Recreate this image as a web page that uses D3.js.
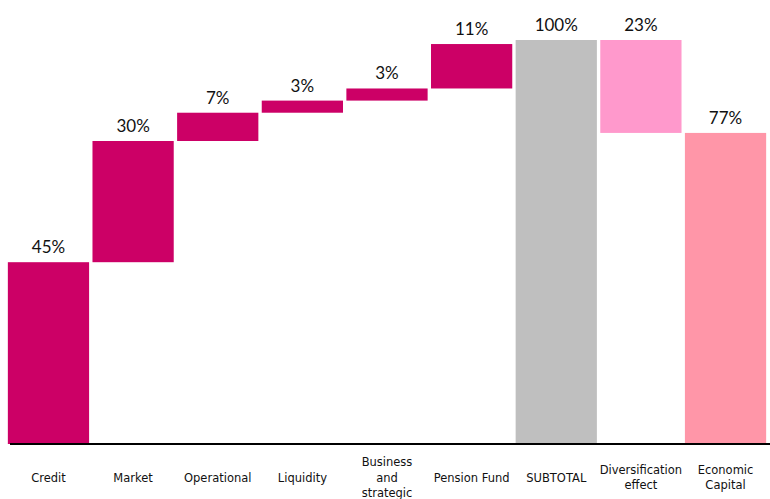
<!DOCTYPE html>
<html>
<head>
<meta charset="utf-8">
<script src="https://cdn.jsdelivr.net/npm/d3@7"></script>
<style>
  html, body { margin: 0; padding: 0; background: #fff; }
  svg { display: block; }
</style>
</head>
<body>
<svg id="chart" width="770" height="499"></svg>
<script>
// Economic capital build-up by risk type (waterfall)
const categories = ["Credit", "Market", "Operational", "Liquidity", "Business and strategic",
                    "Pension Fund", "SUBTOTAL", "Diversification effect", "Economic Capital"];
const tickLabels = [["Credit"], ["Market"], ["Operational"], ["Liquidity"], ["Business", "and", "strategic"],
                    ["Pension Fund"], ["SUBTOTAL"], ["Diversification", "effect"], ["Economic", "Capital"]];
const values = [45, 30, 7, 3, 3, 11, 100, -23, 77];
const kinds = ["risk", "risk", "risk", "risk", "risk", "risk", "subtotal", "diversification", "total"];
const valueLabels = ["45%", "30%", "7%", "3%", "3%", "11%", "100%", "23%", "77%"];

const colors = { risk: "#CC0066", subtotal: "#BFBFBF", diversification: "#FF99CC", total: "#FF96A8" };

const svg = d3.select("#chart");

// Waterfall segments: steps stack on the running total, totals start from zero
let running = 0;
const bars = categories.map((c, i) => {
  const v = values[i];
  let y0, y1;
  if (kinds[i] === "subtotal" || kinds[i] === "total") {
    y0 = 0; y1 = v; running = v;
  } else {
    y0 = running; y1 = running + v; running = y1;
  }
  return { cat: c, lo: Math.min(y0, y1), hi: Math.max(y0, y1), kind: kinds[i], label: valueLabels[i] };
});

const x = d3.scaleBand().domain(categories).range([7, 767]).paddingInner(0.04).paddingOuter(0.01);
const y = d3.scaleLinear().domain([0, 100]).range([444, 40]);

svg.append("g").selectAll("rect").data(bars).join("rect")
  .attr("x", d => x(d.cat))
  .attr("width", x.bandwidth())
  .attr("y", d => y(d.hi))
  .attr("height", d => y(d.lo) - y(d.hi))
  .attr("fill", d => colors[d.kind]);

svg.append("g").selectAll("text").data(bars).join("text")
  .attr("x", d => x(d.cat) + x.bandwidth() / 2)
  .attr("y", d => y(d.hi) - 9)
  .attr("text-anchor", "middle")
  .attr("font-family", "Lato, 'Open Sans', sans-serif")
  .attr("font-size", 17)
  .attr("fill", "#111")
  .text(d => d.label);

// Category axis with multi-line labels; baseline drawn across the full plot width
const axis = svg.append("g")
  .attr("transform", `translate(0,${y(0)})`)
  .call(d3.axisBottom(x).tickSize(0).tickSizeOuter(0));
axis.select(".domain").remove();
axis.append("line")
  .attr("x1", 10).attr("x2", 770)
  .attr("stroke", "#000").attr("stroke-width", 2.2);
axis.selectAll(".tick text").each(function(d, i) {
  const lines = tickLabels[i];
  const t = d3.select(this)
    .attr("y", 0).attr("dy", null)
    .attr("font-family", "'DejaVu Sans', sans-serif")
    .attr("font-size", 11.5)
    .attr("fill", "#111")
    .text(null);
  const lh = 15.5;
  const start = 37.5 - (lines.length - 1) * lh / 2;
  lines.forEach((ln, k) => {
    t.append("tspan").attr("x", 0).attr("y", start + k * lh).text(ln);
  });
});
</script>
</body>
</html>
